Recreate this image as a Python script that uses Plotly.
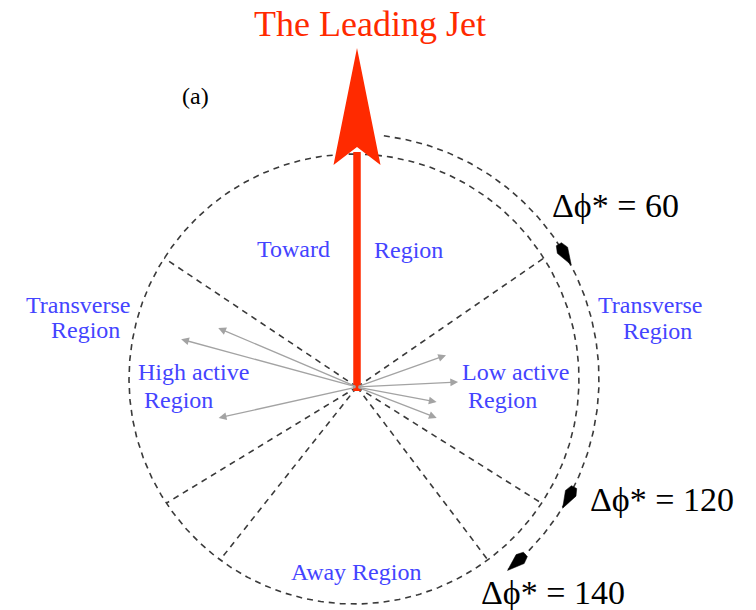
import math
import plotly.graph_objects as go

# ---------------- data (angles in degrees, clockwise from the leading jet) -------------
boundary_deg = [57.5, 123.5, 143.5]          # region boundaries (both sides)
boundary_labels = ["Δϕ* = 60", "Δϕ* = 120", "Δϕ* = 140"]
arc_marker_deg = [59.0, 118.5, 138.0]        # arrowheads along the outer arc
arc_span_deg = [7.0, 141.0]                  # outer dashed arc start / end
track_phi = [-67.0, -74.8, -102.6, 70.4, 87.2, 100.6, 111.2]   # charged tracks
track_len = [0.67, 0.81, 0.63, 0.42, 0.45, 0.36, 0.38]          # length / circle radius
region_words = ["Toward", "Region", "Transverse", "Region", "Transverse", "Region",
                "High active", "Region", "Low active", "Region", "Away Region"]

# ---------------- geometry / layout constants (pixel space) -----------------------------
W, H = 756, 610
CX, CY, R = 354.0, 379.0, 225.0       # dashed circle
R_OUT = 245.0                         # outer arc
OX, OY = 357.0, 387.0                 # jet origin
JET_TIP_Y, HEAD_BASE_Y, HEAD_NOTCH_Y, HEAD_HALF = 48.0, 165.0, 147.0, 23.5
# kite arrowhead outline: (along tangent, across) offsets in px
KITE = [(14, 0), (-3, 6), (-10, 3), (-10, -3), (-3, -6)]

DASH_COL = "#3a3a3a"
BLUE = "#4444ff"
RED = "#ff2a00"
SERIF = "Liberation Serif, Times New Roman, serif"


def pt(theta, r, cx=CX, cy=CY):
    t = math.radians(theta)
    return cx + r * math.sin(t), cy - r * math.cos(t)


fig = go.Figure()

# dashed circle
th = [i * 0.5 for i in range(721)]
fig.add_trace(go.Scatter(x=[pt(t, R)[0] for t in th], y=[pt(t, R)[1] for t in th],
                         mode="lines", line=dict(color=DASH_COL, width=1.6, dash="6px,5px"),
                         hoverinfo="skip", showlegend=False))

# region boundary lines
bx, by = [], []
for b in boundary_deg:
    for s in (-1, 1):
        ex, ey = pt(s * b, R)
        bx += [OX, ex, None]
        by += [OY, ey, None]
fig.add_trace(go.Scatter(x=bx, y=by, mode="lines",
                         line=dict(color=DASH_COL, width=1.6, dash="6px,5px"),
                         hoverinfo="skip", showlegend=False))

# outer arc
n = 200
arc_t = [arc_span_deg[0] + (arc_span_deg[1] - arc_span_deg[0]) * i / n for i in range(n + 1)]
fig.add_trace(go.Scatter(x=[pt(t, R_OUT)[0] for t in arc_t], y=[pt(t, R_OUT)[1] for t in arc_t],
                         mode="lines", line=dict(color=DASH_COL, width=1.6, dash="6px,5px"),
                         hoverinfo="skip", showlegend=False))

shapes = []
# kite arrowheads on the outer arc (pointing clockwise)
for m in arc_marker_deg:
    px, py = pt(m, R_OUT)
    t = math.radians(m)
    tx, ty = math.cos(t), math.sin(t)        # clockwise tangent (screen coords)
    nx, ny = math.sin(t), -math.cos(t)       # outward normal
    pts = [(px + a * tx + b * nx, py + a * ty + b * ny) for a, b in KITE]
    path = "M" + " L".join(f"{x:.2f},{y:.2f}" for x, y in pts) + " Z"
    shapes.append(dict(type="path", xref="x", yref="y", path=path,
                       fillcolor="black", line=dict(color="black", width=0.5)))

annotations = []

# tracks
for phi, ln in zip(track_phi, track_len):
    tx, ty = pt(phi, ln * R, OX, OY)
    annotations.append(dict(x=tx, y=ty, ax=OX, ay=OY, xref="x", yref="y", axref="x", ayref="y",
                            showarrow=True, arrowhead=2, arrowsize=1.2, arrowwidth=1.3,
                            arrowcolor="#a3a3a3", text=""))

# leading jet arrow
shapes += [
    dict(type="line", x0=OX, y0=OY + 4, x1=OX, y1=HEAD_NOTCH_Y + 5, xref="x", yref="y",
         line=dict(color=RED, width=7.5)),
    dict(type="path", xref="x", yref="y",
         path=f"M{OX},{JET_TIP_Y} L{OX + HEAD_HALF},{HEAD_BASE_Y} L{OX},{HEAD_NOTCH_Y} "
              f"L{OX - HEAD_HALF},{HEAD_BASE_Y} Z",
         fillcolor=RED, line=dict(color=RED, width=0)),
]


def label(text, x, y, size, color, anchor="center"):
    annotations.append(dict(x=x, y=y, xref="x", yref="y", text=text, showarrow=False,
                            xanchor=anchor, yanchor="middle",
                            font=dict(family=SERIF, size=size, color=color)))


# region labels (center x, middle y)
region_pos = [(293.5, 249), (408, 250), (77.5, 305), (85, 330), (650, 305), (657, 331),
              (193.5, 372), (178, 400), (515, 372), (502, 400), (356, 572)]
for txt, (x, y) in zip(region_words, region_pos):
    label(txt, x, y, 24, BLUE)

# title and panel tag
label("The Leading Jet", 370, 24, 36, RED)
label("(a)", 195, 96, 24, "black")

# delta-phi labels
dphi_pos = [(615, 205), (662, 499), (553, 592)]
for txt, (x, y) in zip(boundary_labels, dphi_pos):
    label(txt, x, y, 34, "black")

fig.update_layout(
    width=W, height=H, margin=dict(l=0, r=0, t=0, b=0),
    paper_bgcolor="white", plot_bgcolor="white",
    xaxis=dict(range=[0, W], visible=False, fixedrange=True),
    yaxis=dict(range=[H, 0], visible=False, fixedrange=True),
    shapes=shapes, annotations=annotations, showlegend=False,
)

fig.write_html("out.html", config={"displayModeBar": False},
               post_script="document.body.style.margin='0';")
